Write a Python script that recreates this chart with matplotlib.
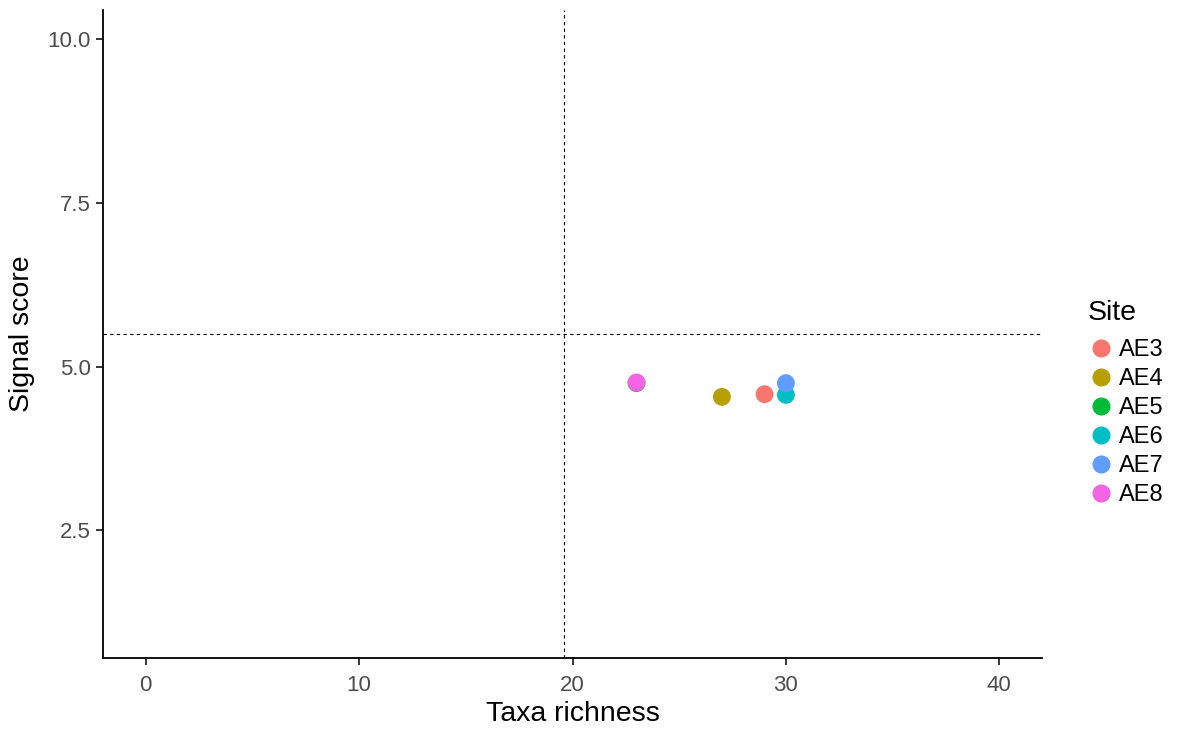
import matplotlib.pyplot as plt
from matplotlib.lines import Line2D

plt.rcParams["font.family"] = ["Liberation Sans", "DejaVu Sans"]

sites = ["AE3", "AE4", "AE5", "AE6", "AE7", "AE8"]
taxa_richness = [29, 27, 23, 30, 30, 23]
signal_score = [4.58, 4.54, 4.75, 4.57, 4.75, 4.76]
site_colors = ["#F8766D", "#B79F00", "#00BA38", "#00BFC4", "#619CFF", "#F564E3"]

richness_cutoff = 19.6
signal_cutoff = 5.5

x_ticks = [0, 10, 20, 30, 40]
y_ticks = [2.5, 5.0, 7.5, 10.0]


def main():
    fig = plt.figure(figsize=(11.81, 7.29), dpi=100)
    ax = fig.add_axes([103 / 1181, 71 / 729, 939 / 1181, 648 / 729])

    ax.axhline(signal_cutoff, color="black", lw=0.8, ls=(0, (3, 3)), zorder=1)
    ax.axvline(richness_cutoff, color="black", lw=0.8, ls=(0, (3, 3)), zorder=1)

    for x, y, c in zip(taxa_richness, signal_score, site_colors):
        ax.scatter(x, y, s=165, color=c, edgecolor="none", zorder=2)

    ax.set_xlim(-2, 42)
    ax.set_ylim(0.55, 10.45)
    ax.set_xticks(x_ticks)
    ax.set_yticks(y_ticks)
    ax.set_yticklabels([f"{v:.1f}" for v in y_ticks])

    for side in ["top", "right"]:
        ax.spines[side].set_visible(False)
    for side in ["left", "bottom"]:
        ax.spines[side].set_linewidth(1.3)
    ax.tick_params(length=5, width=1.1, labelsize=16, labelcolor="#4D4D4D")
    ax.tick_params(axis="x", pad=7)
    ax.tick_params(axis="y", pad=4)

    ax.set_xlabel("Taxa richness", fontsize=20.5, labelpad=4)
    ax.set_ylabel("Signal score", fontsize=20.5, labelpad=9)

    # legend title drawn on its own so the gap below it can be set freely
    fig.text(1088 / 1181, 1 - 313 / 729, "Site", fontsize=20.5,
             ha="left", va="center")
    handles = [
        Line2D([], [], ls="none", marker="o", markersize=13, color=c, markeredgewidth=0)
        for c in site_colors
    ]
    fig.legend(
        handles, sites, loc="upper left",
        bbox_to_anchor=(1087 / 1181, 1 - 339 / 729),
        frameon=False, fontsize=17, borderpad=0,
        handletextpad=0.15, labelspacing=0.3, handlelength=1.2,
        borderaxespad=0,
    )

    fig.savefig("out.png", dpi=100)


main()
